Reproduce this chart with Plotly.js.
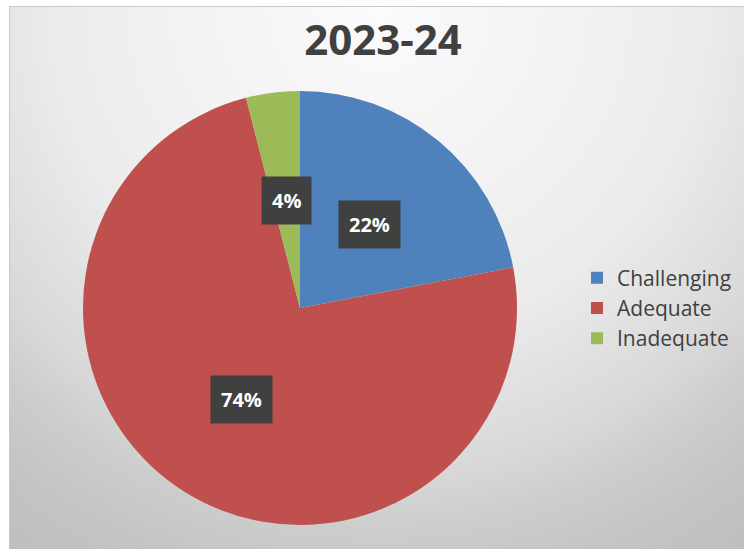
<!DOCTYPE html>
<html><head><meta charset="utf-8">
<script src="https://cdn.plot.ly/plotly-3.0.1.min.js"></script>
<style>
html,body{margin:0;padding:0;background:#fff;width:744px;height:549px;overflow:hidden;}
#frame{position:absolute;left:9px;top:6px;width:740px;height:548px;box-sizing:border-box;border:1px solid #c9c9c9;
background:radial-gradient(circle farthest-corner at 50% 0%, #fbfbfb 0%, #f2f2f2 30%, #ebebeb 50%, #d8d8d8 71%, #cdcdcd 79%, #c4c4c4 89%, #bebebe 100%);}
#chart{position:absolute;left:0;top:0;width:744px;height:549px;}
</style></head>
<body><div id="frame"></div><div id="chart"></div>
<script>
const categories = ["Challenging", "Adequate", "Inadequate"];
const values = [22, 74, 4];
const colors = ["#4F81BD", "#C0504D", "#9BBB59"];
const chartTitle = "2023-24";

const W = 744, H = 549;
const cxPx = 300, cyPx = 308, rPx = 217;
const dom = {x:[(cxPx-rPx)/W, (cxPx+rPx)/W], y:[(H-cyPx-rPx)/H, (H-cyPx+rPx)/H]};

const total = values.reduce((a,b)=>a+b,0);
let acc = 0;
const annotations = values.map((v,i)=>{
  const mid = (acc + v/2)/total*2*Math.PI; acc += v;
  const px = cxPx + 0.5*rPx*Math.sin(mid);
  const py = cyPx - 0.5*rPx*Math.cos(mid);
  return {x:px/W, y:1-py/H, xref:'paper', yref:'paper', xanchor:'center', yanchor:'middle', showarrow:false,
    text: Math.round(v/total*100)+'%', bgcolor:'#404040', borderpad:10,
    font:{family:'Open Sans', size:20, color:'#ffffff', weight:700}};
});

const data = [{type:'pie', labels:categories, values:values, sort:false, direction:'clockwise', rotation:0,
  marker:{colors:colors, line:{width:0}}, textinfo:'none', hoverinfo:'label+percent', domain:dom}];

const layout = {width:W, height:H, margin:{l:0,r:0,t:0,b:0},
  paper_bgcolor:'rgba(0,0,0,0)', plot_bgcolor:'rgba(0,0,0,0)',
  title:{text:'<b>'+chartTitle+'</b>', x:383/W, xanchor:'center', y:1-40/H, yanchor:'middle',
    font:{family:'Open Sans', size:42, color:'#404040'}},
  showlegend:true,
  legend:{x:577/W, xanchor:'left', y:1-308/H, yanchor:'middle', bgcolor:'rgba(0,0,0,0)',
    font:{family:'Open Sans', size:21, color:'#404040'}, itemwidth:30, tracegroupgap:0},
  annotations:annotations};

Plotly.newPlot('chart', data, layout, {displayModeBar:false, staticPlot:true});
</script></body></html>
